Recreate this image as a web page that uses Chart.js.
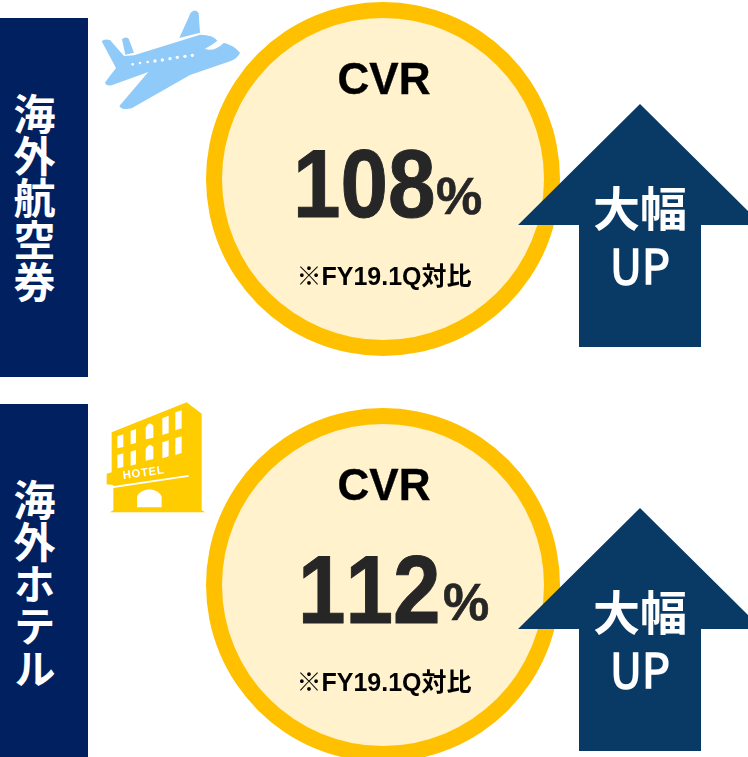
<!DOCTYPE html>
<html lang="ja">
<head>
<meta charset="utf-8">
<title>CVR</title>
<script src="https://cdn.jsdelivr.net/npm/chart.js@4"></script>
<style>
  html, body { margin: 0; padding: 0; background: #fff; }
  #page { position: relative; width: 748px; height: 757px; overflow: hidden; font-family: "Liberation Sans", sans-serif; }
  #page > * { position: absolute; }
  .band { left: 0; width: 88px; background: #002060; }
  .band-label { left: 0; width: 68px; color: #fff; font: 700 42px/42px "Noto Sans CJK JP"; writing-mode: vertical-rl; display: flex; align-items: center; justify-content: center; }
  .ring { left: 206px; width: 354px; height: 354px; }
  .txt { white-space: nowrap; text-align: center; }
  .cvr { left: 284px; width: 200px; font: 700 44px/50px "Liberation Sans"; color: #000; -webkit-text-stroke: 0.4px #000; }
  .num { font: 700 96px/100px "Liberation Sans"; font-kerning: none; color: #262626; transform-origin: 0 0; transform: scaleX(0.89); -webkit-text-stroke: 1px #262626; }
  .pct { font: 700 52px/60px "Liberation Sans"; color: #262626; -webkit-text-stroke: 0.6px #262626; }
  .note { left: 284px; width: 200px; font: 700 25px/28px "Liberation Sans", "Noto Sans CJK JP"; color: #000; }
  .arrow { left: 518px; width: 230px; height: 243px; }
  .big { left: 580px; width: 120px; font: 700 47px/50px "Noto Sans CJK JP"; color: #fff; }
  .up { left: 580px; width: 120px; font: 400 48px/50px "Noto Sans CJK JP"; color: #fff; transform: scaleX(0.92); -webkit-text-stroke: 1.6px #fff; }
</style>
</head>
<body>
<div id="page"></div>
<script>
const categories = ["海外航空券", "海外ホテル"];
const cvrValues = [108, 112];
const metricLabel = "CVR";
const noteLabel = "※FY19.1Q対比";
const arrowLabels = ["大幅", "UP"];

// top of each panel, everything else hangs off these
const bandTops = [18, 404];
const bandHeights = [359, 353];
const ringTops = [2, 408];
const arrowTops = [104, 508];
const numLefts = [297, 302];

const page = document.getElementById("page");

function addEl(cls, top, text, height) {
  const el = document.createElement("div");
  el.className = cls;
  el.style.top = top + "px";
  if (height) el.style.height = height + "px";
  if (text) el.textContent = text;
  page.appendChild(el);
  return el;
}

const ringFill = {
  id: "ringFill",
  beforeDatasetsDraw(chart) {
    const arc = chart.getDatasetMeta(0).data[0];
    const ctx = chart.ctx;
    ctx.save();
    ctx.fillStyle = "#FFF2CC";
    ctx.beginPath();
    ctx.arc(arc.x, arc.y, arc.innerRadius + 1, 0, Math.PI * 2);
    ctx.fill();
    ctx.restore();
  },
};

function drawRing(canvas, value, label) {
  new Chart(canvas, {
    type: "doughnut",
    data: {
      labels: [label],
      datasets: [{ data: [value], backgroundColor: "#FFC000", borderWidth: 0 }],
    },
    options: {
      responsive: false,
      animation: false,
      cutout: 161,
      layout: { padding: 0 },
      plugins: { legend: { display: false }, tooltip: { enabled: false } },
    },
    plugins: [ringFill],
  });
}

categories.forEach((name, i) => {
  addEl("band", bandTops[i], "", bandHeights[i]);
  addEl("band-label", bandTops[i], name, bandHeights[i] + (i === 0 ? 0 : 6));

  const canvas = document.createElement("canvas");
  canvas.className = "ring";
  canvas.width = 354;
  canvas.height = 354;
  canvas.style.top = ringTops[i] + "px";
  page.appendChild(canvas);
  drawRing(canvas, cvrValues[i], name);

  addEl("txt cvr", ringTops[i] + 52, metricLabel);
  const num = addEl("txt num", ringTops[i] + 132, String(cvrValues[i]));
  num.style.left = numLefts[i] - 4 + "px";
  const pct = addEl("txt pct", ringTops[i] + 164, "%");
  pct.style.left = [436, 443][i] + "px";
  addEl("txt note", ringTops[i] + 260, noteLabel);

  const svg = document.createElementNS("http://www.w3.org/2000/svg", "svg");
  svg.setAttribute("class", "arrow");
  svg.setAttribute("viewBox", "0 0 230 243");
  svg.style.top = arrowTops[i] + "px";
  svg.innerHTML = '<polygon fill="#083A65" points="122,0 244,121 183,121 183,243 61,243 61,121 0,121"/>';
  page.appendChild(svg);

  addEl("txt big", arrowTops[i] + 77, arrowLabels[0]);
  addEl("txt up", arrowTops[i] + 134, arrowLabels[1]);
});

// plane (3x units)
const plane = document.createElementNS("http://www.w3.org/2000/svg", "svg");
plane.setAttribute("viewBox", "0 0 750 600");
plane.setAttribute("style", "left:0;top:0;width:250px;height:200px;filter:blur(0.4px)");
plane.innerHTML = `
  <path fill="#90CAF9" d="M305 124 Q312 116 330 120 L372 168 L402 166 L600 104 Q640 104 652 122 Q640 132 615 146 Q640 158 672 128 Q702 136 720 158 Q714 174 690 184 L570 225 L395 325 Q365 332 358 318 L445 216 L335 256 Q314 258 316 246 L348 204 Z"/>
  <path fill="#90CAF9" d="M538 114 L572 38 Q588 24 596 40 L600 98 Z"/>
  <path fill="#90CAF9" d="M366 118 Q376 108 386 116 L402 158 L376 164 Z"/>
  <g fill="#fff">
    <circle cx="398" cy="193" r="4"/><circle cx="420" cy="189" r="4"/><circle cx="443" cy="186" r="4"/>
    <circle cx="465" cy="183" r="5"/><circle cx="487" cy="180" r="5"/><circle cx="510" cy="176" r="5"/>
    <circle cx="532" cy="172" r="5"/><circle cx="555" cy="169" r="5"/><circle cx="577" cy="166" r="5"/>
  </g>`;
page.appendChild(plane);

// hotel, same idea
const hotel = document.createElementNS("http://www.w3.org/2000/svg", "svg");
hotel.setAttribute("viewBox", "0 0 390 390");
hotel.setAttribute("style", "left:90px;top:395px;width:130px;height:130px");
hotel.innerHTML = `
  <path fill="#FFCC00" d="M65 112 L290 22 L335 56 L335 345 L345 352 L60 352 L70 346 L70 270 L50 268 L50 236 L65 232 Z"/>
  <g fill="#fff">
    <polygon points="82,124 100,118 100,156 82,160"/><polygon points="122,108 138,102 138,144 122,148"/>
    <path d="M167 133 L167 98 Q178 76 190 92 L190 128 Z"/><polygon points="217,70 236,62 236,114 217,120"/><polygon points="256,52 275,46 275,100 256,106"/>
    <polygon points="82,180 100,175 100,216 82,220"/><polygon points="122,170 138,165 138,208 122,212"/>
    <path d="M167 197 L167 162 Q178 142 190 156 L190 192 Z"/><polygon points="217,142 236,136 236,184 217,190"/><polygon points="256,130 275,124 275,174 256,180"/>
    <polygon points="50,276 296,240 296,245 50,282"/>
    <path d="M141 337 L141 305 Q150 285 178 283 Q206 285 215 305 L215 337 Z"/>
    <text x="100" y="252" font-family="Liberation Sans" font-weight="700" font-size="34" letter-spacing="2" transform="rotate(-8 100 252)">HOTEL</text>
  </g>`;
page.appendChild(hotel);
</script>
</body>
</html>
